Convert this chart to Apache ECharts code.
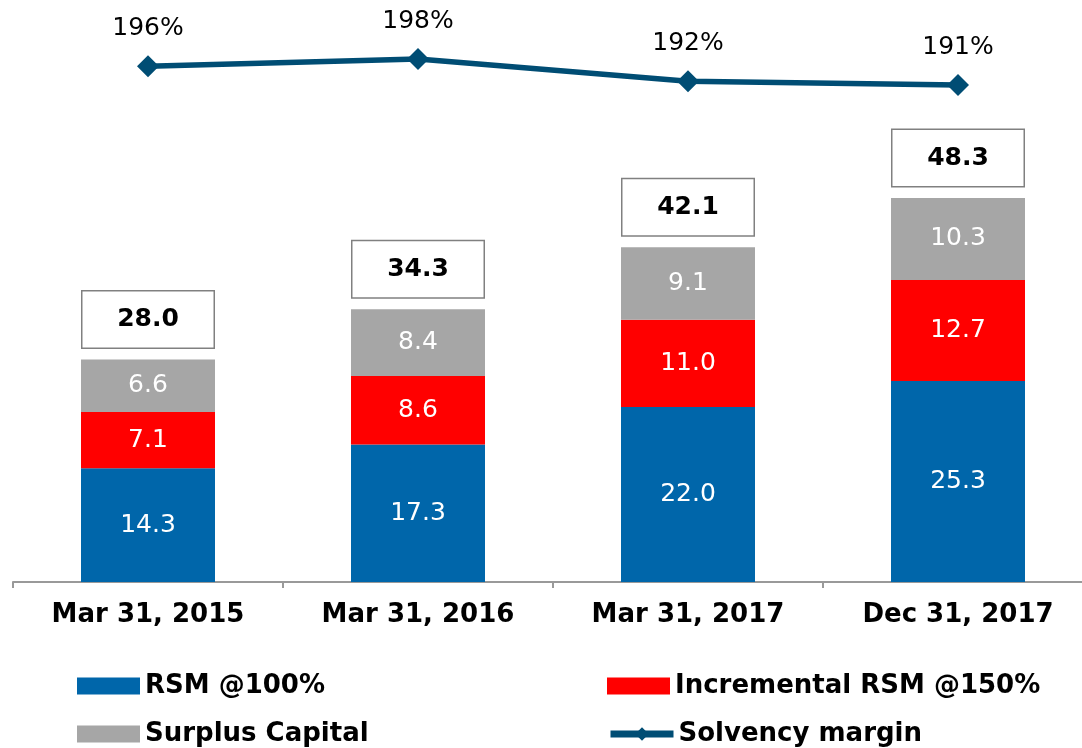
<!DOCTYPE html>
<html>
<head>
<meta charset="utf-8">
<title>Solvency</title>
<script src="https://cdn.jsdelivr.net/npm/echarts@6/dist/echarts.min.js"></script>
<style>
  html, body { margin: 0; padding: 0; background: #fff; }
  #chart { width: 1082px; height: 748px; }
</style>
</head>
<body>
<div id="chart"></div>
<script>
// 数据
var categories = ['Mar 31, 2015', 'Mar 31, 2016', 'Mar 31, 2017', 'Dec 31, 2017']
var rsm100 = [14.3, 17.3, 22.0, 25.3]
var rsmIncr = [7.1, 8.6, 11.0, 12.7]
var surplus = [6.6, 8.4, 9.1, 10.3]
var totals = [28.0, 34.3, 42.1, 48.3]
var solvency = [196, 198, 192, 191]

var FONT = '"DejaVu Sans", Verdana, sans-serif'

var chart = echarts.init(document.getElementById('chart'))

function barSeries (name, data, color) {
  return {
    name: name,
    type: 'bar',
    stack: 'total',
    barWidth: 134,
    data: data,
    itemStyle: { color: color },
    label: {
      show: true,
      position: 'inside',
      color: '#fff',
      fontSize: 25,
      fontFamily: FONT,
      formatter: function (p) { return p.value.toFixed(1) }
    }
  }
}

function legendItem (name, left, top) {
  var isLine = name === 'Solvency margin'
  return {
    data: [{ name: name, icon: isLine ? undefined : 'rect' }],
    left: left,
    top: top,
    itemWidth: 63,
    itemHeight: 17,
    itemGap: 0,
    selectedMode: false,
    lineStyle: isLine ? { width: 7 } : undefined,
    textStyle: { fontSize: 26, fontWeight: 'bold', color: '#000', fontFamily: FONT }
  }
}

chart.setOption({
  animation: false,
  backgroundColor: '#fff',
  textStyle: { fontFamily: FONT },
  grid: { left: 13, width: 1080, top: 20, bottom: 166, outerBoundsMode: 'none', containLabel: false },
  legend: [
    legendItem('RSM @100%', 72, 668),
    legendItem('Incremental RSM @150%', 602, 668),
    legendItem('Surplus Capital', 72, 716),
    legendItem('Solvency margin', 602, 716)
  ],
  xAxis: {
    type: 'category',
    data: categories,
    axisLine: { lineStyle: { color: '#999', width: 2 } },
    axisTick: { show: true, length: 6, lineStyle: { color: '#999', width: 2 } },
    axisLabel: { margin: 20, fontSize: 26, fontWeight: 'bold', color: '#000', fontFamily: FONT }
  },
  yAxis: [
    { type: 'value', min: 0, max: 70.7, show: false, splitLine: { show: false } },
    { type: 'value', min: 57, max: 208.5, show: false, splitLine: { show: false } }
  ],
  series: [
    barSeries('RSM @100%', rsm100, '#0066AA'),
    barSeries('Incremental RSM @150%', rsmIncr, '#FF0000'),
    barSeries('Surplus Capital', surplus, '#A6A6A6'),
    {
      // 总计标签
      name: 'Total',
      type: 'scatter',
      data: totals,
      symbolSize: 0,
      silent: true,
      itemStyle: { color: '#000', opacity: 1 },
      label: {
        show: true,
        position: 'top',
        distance: 12,
        formatter: function (p) { return '{t|' + p.value.toFixed(1) + '}' },
        rich: {
          t: { fontSize: 25, fontWeight: 'bold', color: '#000', fontFamily: FONT, lineHeight: 28 }
        },
        backgroundColor: '#fff',
        borderColor: '#808080',
        borderWidth: 1.5,
        width: 131,
        align: 'center',
        padding: [14, 0]
      }
    },
    {
      name: 'Solvency margin',
      type: 'line',
      yAxisIndex: 1,
      data: solvency,
      symbol: 'diamond',
      symbolSize: 22,
      lineStyle: { color: '#004D74', width: 5.5 },
      itemStyle: { color: '#004D74' },
      label: {
        show: true,
        position: 'top',
        distance: 14,
        fontSize: 25,
        color: '#000',
        fontFamily: FONT,
        formatter: '{c}%'
      }
    }
  ]
})
</script>
</body>
</html>
